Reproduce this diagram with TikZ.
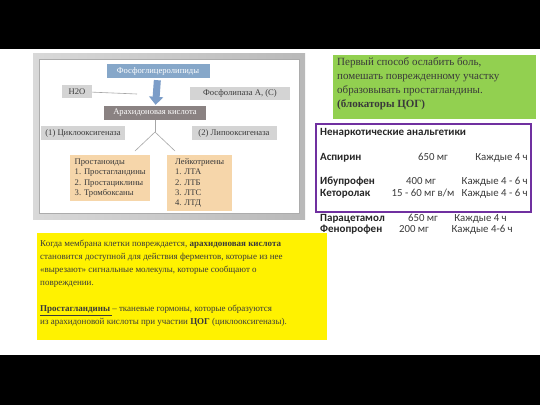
\documentclass[tikz,border=0pt]{standalone}
\usepackage{fontspec}
\setmainfont{Liberation Serif}
\newfontfamily\calibri{Carlito}
\usetikzlibrary{arrows.meta}
\definecolor{steelbox}{HTML}{86A7C9}
\definecolor{chipgray}{HTML}{D4D4D4}
\definecolor{darkchip}{HTML}{8A8282}
\definecolor{peach}{HTML}{F6D6AA}
\definecolor{arrowblue}{HTML}{7C9DC8}
\definecolor{textgray}{HTML}{3A3A3A}
\definecolor{leafgreen}{HTML}{92D050}
\definecolor{violet}{HTML}{7030A0}

\begin{document}
\begin{tikzpicture}
		[%%%%%%%%%%%%%%%%%%%%%%%%%%%%%%
		x=1pt,y=-1pt,
		chip/.style={rectangle,inner sep=0pt,fill=chipgray,text=textgray,font=\fontsize{8.6}{9}\selectfont},
		darkchip/.style={chip,fill=darkchip,text=white},
		listbox/.style={rectangle,fill=peach,anchor=north west,align=left,inner sep=2.5pt,text=textgray,font=\fontsize{8.6}{10.3}\selectfont},
		thinline/.style={gray!70,line width=0.6pt},
		blockarrow/.style={arrowblue,line width=7pt,-{Triangle[width=14pt,length=8pt]}},
		drug/.style={anchor=base west,inner sep=0pt,font=\calibri\bfseries\fontsize{11}{12}\selectfont,text=black!85},
		dose/.style={anchor=base,inner sep=0pt,font=\calibri\fontsize{10.8}{12}\selectfont,text=textgray},
		]%%%%%%%%%%%%%%%%%%%%%%%%%%%%%%
		
		\useasboundingbox (0,0) rectangle (540,405);
		\fill[black] (0,0) rectangle (540,49);
		\fill[black] (0,355) rectangle (540,405);
		
		% frame of the scheme
		\shade[left color=gray!30,right color=gray!55] (33,53) rectangle (305,219);
		\fill[white] (39,59) rectangle (299,213);
		\draw[gray!65,line width=0.8pt] (39,59) rectangle (299,213);
		
		\node[chip,fill=steelbox,text=white,minimum width=103pt,minimum height=14pt] (phospho) at (158,71) {Фосфоглицеролипиды};
		\node[chip,minimum width=30pt,minimum height=13pt] (water) at (77,91.5) {H2O};
		\node[chip,minimum width=100pt,minimum height=13pt] (lipase) at (240,93.5) {Фосфолипаза А, (С)};
		\node[darkchip,minimum width=102pt,minimum height=14pt] (arach) at (155,113) {Арахидоновая кислота};
		\node[chip,minimum width=84pt,minimum height=14pt] (cox) at (83,133) {(1) Циклооксигеназа};
		\node[chip,minimum width=85pt,minimum height=14pt] (lox) at (234,133) {(2) Липооксигеназа};
		\node[listbox,minimum width=80pt,minimum height=46pt] (prost) at (70,155)
			{Простаноиды\\1. Простагландины\\2. Простациклины\\3. Тромбоксаны};
		\node[listbox,minimum width=65pt,minimum height=56pt] (leuk) at (167,155)
			{Лейкотриены\\1. ЛТА\\2. ЛТБ\\3. ЛТС\\4. ЛТД};
		
		\coordinate (waterend) at (137,94);
		\coordinate (fork) at (155,132);
		\coordinate (prostend) at (135,151);
		\coordinate (leukend) at (175,151);
		\draw[thinline] (water) -- (waterend);
		\draw[blockarrow,shorten <=2pt,shorten >=1pt] (phospho) -- (arach);
		\draw[thinline] (arach) -- (fork);
		\draw[thinline] (fork) -- (prostend);
		\draw[thinline] (fork) -- (leukend);
		
		% green note
		\fill[leafgreen] (333,55) rectangle (536,119);
		\node[anchor=north west,align=left,inner sep=0pt,text=textgray,font=\fontsize{11}{14}\selectfont] (note) at (337,57)
			{Первый способ ослабить боль,\\помешать поврежденному участку\\образовывать простагландины.\\\textbf{(блокаторы ЦОГ)}};
		
		% analgetics
		\draw[violet,line width=2pt] (316,124) rectangle (531,212);
		\node[drug] (title) at (320,135) {Ненаркотические анальгетики};
		\foreach \nm/\ds/\fr/\y/\dx/\fx in {
			Аспирин/{650 мг}/{Каждые 4 ч}/160/433/528,
			Ибупрофен/{400 мг}/{Каждые 4 - 6 ч}/184/421/528,
			Кеторолак/{15 - 60 мг в/м}/{Каждые 4 - 6 ч}/196/423/528,
			Парацетамол/{650 мг}/{Каждые 4 ч}/221/423/507,
			Фенопрофен/{200 мг}/{Каждые 4-6 ч}/232/414/513}{
			\node[drug] (name-\y) at (320,\y) {\nm};
			\node[dose] (dose-\y) at (\dx,\y) {\ds};
			\node[dose,anchor=base east] (freq-\y) at (\fx,\y) {\fr};
		}
		
		% yellow note
		\fill[yellow] (37,233) rectangle (327,340);
		\node[anchor=north west,align=left,inner sep=0pt,text=textgray,font=\fontsize{9}{13}\selectfont] (story) at (40,240)
			{Когда мембрана клетки повреждается, \textbf{арахидоновая кислота}\\
			становится доступной для действия ферментов, которые из нее\\
			«вырезают» сигнальные молекулы, которые сообщают о\\
			повреждении.\\[13pt]
			\underline{\textbf{Простагландины} }– тканевые гормоны, которые образуются\\
			из арахидоновой кислоты при участии \textbf{ЦОГ} (циклооксигеназы).};
		\end{tikzpicture}
\end{document}
